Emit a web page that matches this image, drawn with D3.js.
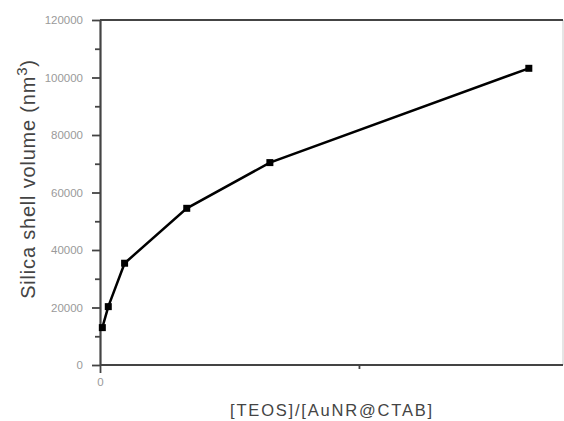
<!DOCTYPE html>
<html><head><meta charset="utf-8">
<script src="https://cdn.jsdelivr.net/npm/d3@7"></script>
<style>body{margin:0;background:#fff}svg{display:block}</style>
</head><body>
<svg id="c" width="564" height="421"></svg>
<script>
const ratio = [0.009, 0.032, 0.095, 0.335, 0.656, 1.656];
const volume = [13000, 20300, 35400, 54500, 70400, 103200];
const yTicks = [0, 20000, 40000, 60000, 80000, 100000, 120000];
const yMinor = [10000, 30000, 50000, 70000, 90000, 110000];
const xTickLabels = ["0"];
const xLabel = "[TEOS]/[AuNR@CTAB]";
const yLabel = "Silica shell volume (nm";

const svg = d3.select("#c");
const x = d3.scaleLinear().domain([0, 1.788]).range([100, 563]);
const y = d3.scaleLinear().domain([0, 120000]).range([365, 20]);
const axisCol = "#444";
const font = "Liberation Sans, Arial, sans-serif";

// right frame (light)
svg.append("line").attr("x1", 563).attr("x2", 563).attr("y1", 20).attr("y2", 365)
  .attr("stroke", "#ddd").attr("stroke-width", 1.5);
// top frame
svg.append("line").attr("x1", 100).attr("x2", 563).attr("y1", 20).attr("y2", 20)
  .attr("stroke", axisCol).attr("stroke-width", 2.2);

// y axis
const yAx = svg.append("g").attr("transform", "translate(100,0)")
  .call(d3.axisLeft(y).tickValues(yTicks).tickSize(8).tickSizeOuter(0).tickPadding(9).tickFormat(d3.format("d")));
yAx.select(".domain").attr("stroke", axisCol).attr("stroke-width", 2.2);
yAx.selectAll(".tick line").attr("stroke", axisCol).attr("stroke-width", 1.8);
yAx.selectAll(".tick text").attr("fill", "#9a9a9a").attr("font-family", font).attr("font-size", 11.5);
const yMin = svg.append("g").attr("transform", "translate(100,0)")
  .call(d3.axisLeft(y).tickValues(yMinor).tickSize(5).tickFormat(""));
yMin.select(".domain").remove();
yMin.selectAll(".tick line").attr("stroke", axisCol).attr("stroke-width", 1.8);

// x axis
const xAx = svg.append("g").attr("transform", "translate(0,365)")
  .call(d3.axisBottom(x).tickValues([0]).tickSize(8).tickSizeOuter(0).tickPadding(5).tickFormat((d, i) => xTickLabels[i]));
xAx.select(".domain").attr("stroke", axisCol).attr("stroke-width", 2.2).attr("d", "M100,0H563");
xAx.selectAll(".tick line").attr("stroke", axisCol).attr("stroke-width", 1.8);
xAx.selectAll(".tick text").attr("fill", "#9a9a9a").attr("font-family", font).attr("font-size", 11.5);
const xMin = svg.append("g").attr("transform", "translate(0,365)")
  .call(d3.axisBottom(x).tickValues([1]).tickSize(4).tickFormat(""));
xMin.select(".domain").remove();
xMin.selectAll(".tick line").attr("stroke", axisCol).attr("stroke-width", 1.8);

// line
const pts = ratio.map((r, i) => [r, volume[i]]);
svg.append("path").datum(pts)
  .attr("fill", "none").attr("stroke", "#000").attr("stroke-width", 2.5)
  .attr("d", d3.line().x(d => x(d[0])).y(d => y(d[1])));
svg.selectAll("rect.m").data(pts).enter().append("rect").attr("class", "m")
  .attr("x", d => x(d[0]) - 3.5).attr("y", d => y(d[1]) - 3.5)
  .attr("width", 7).attr("height", 7).attr("fill", "#000");

// labels
svg.append("text").attr("x", 332).attr("y", 416).attr("text-anchor", "middle")
  .attr("fill", "#444").attr("font-family", font)
  .attr("font-size", 16.5).attr("letter-spacing", 1.8).text(xLabel);

const yl = svg.append("text").attr("transform", "translate(35,179) rotate(-90)")
  .attr("text-anchor", "middle").attr("fill", "#444")
  .attr("font-family", font).attr("font-size", 20).attr("letter-spacing", 0.8);
yl.append("tspan").text(yLabel);
yl.append("tspan").attr("dy", -8).attr("font-size", 15).text("3");
yl.append("tspan").attr("dy", 8).text(")");
</script>
</body></html>
